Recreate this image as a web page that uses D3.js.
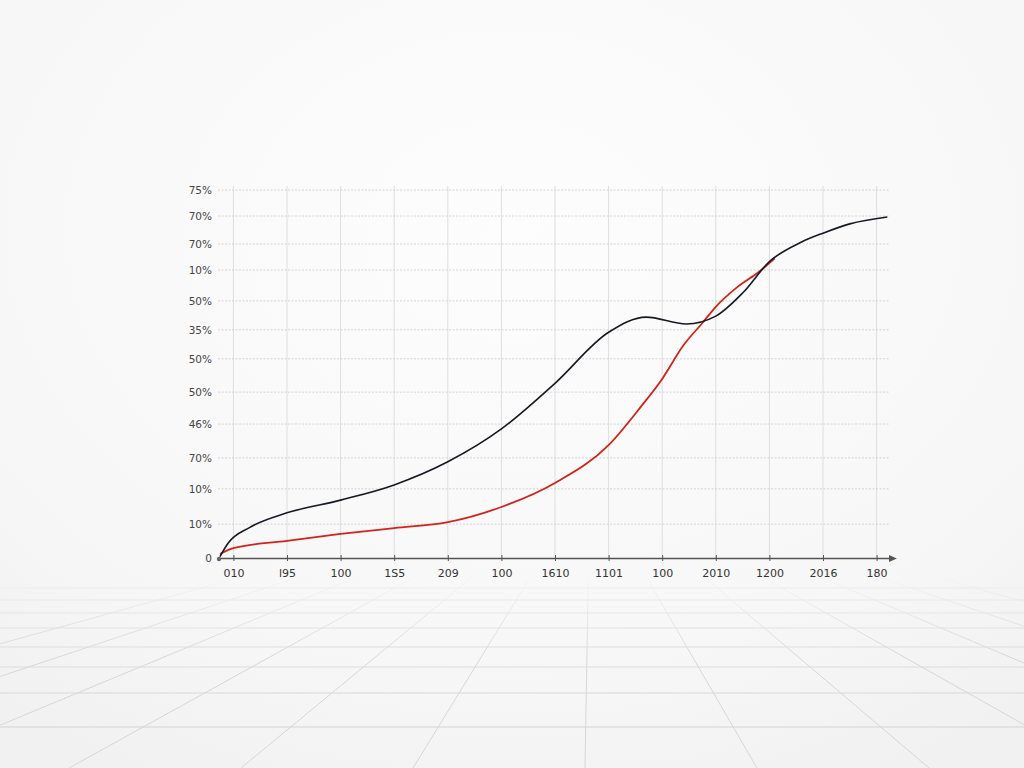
<!DOCTYPE html>
<html>
<head>
<meta charset="utf-8">
<script src="https://cdn.jsdelivr.net/npm/d3@7"></script>
<style>
  html, body { margin: 0; padding: 0; background: #f6f6f6; }
  svg { display: block; }
  text { font-family: 'DejaVu Sans', sans-serif; }
</style>
</head>
<body>
<svg id="chart" width="1024" height="768"></svg>
<script>
// x categories (tick labels as printed on the chart)
const xLabels = ['010', 'l95', '100', '1S5', '209', '100', '1610', '1101', '100', '2010', '1200', '2016', '180']

// y ticks, bottom to top
const yTickValues = [0, 6.9, 14.1, 20.4, 27.3, 33.8, 40.6, 46.5, 52.4, 58.7, 64.0, 69.7, 75]
const yLabels = ['0', '10%', '10%', '70%', '46%', '50%', '50%', '35%', '50%', '10%', '70%', '70%', '75%']

// black series
const blackX = [-0.25, -0.1, 0.3, 1, 2, 3, 4, 5, 6, 7, 7.7, 8.45, 9, 9.5, 10, 10.6, 11, 11.5, 12.2]
const blackY = [0.3, 3.0, 6.2, 9.2, 11.8, 14.9, 19.6, 26.3, 35.6, 46, 49.1, 47.7, 49.3, 54, 60.4, 64.4, 66.2, 68.1, 69.5]

// red series
const redX = [-0.25, 0, 1, 2, 3, 4, 5, 6, 7, 7.6, 8, 8.4, 8.75, 9, 9.4, 9.8, 10.1]
const redY = [0.8, 2.0, 3.5, 4.9, 6.1, 7.3, 10.4, 15.3, 23.0, 30.8, 36.5, 43.4, 47.9, 51.2, 55.2, 58.3, 61.1]

const width = 1024
const height = 768

const svg = d3.select('#chart')
const defs = svg.append('defs')

// background
const bg = defs.append('radialGradient')
  .attr('id', 'bg')
  .attr('cx', '50%').attr('cy', '30%').attr('r', '80%')
bg.append('stop').attr('offset', '0%').attr('stop-color', '#fdfdfd')
bg.append('stop').attr('offset', '70%').attr('stop-color', '#f7f7f7')
bg.append('stop').attr('offset', '100%').attr('stop-color', '#f1f1f1')

svg.append('rect')
  .attr('width', width)
  .attr('height', height)
  .attr('fill', 'url(#bg)')

// perspective floor
const fade = defs.append('linearGradient')
  .attr('id', 'fade')
  .attr('gradientUnits', 'userSpaceOnUse')
  .attr('x1', 0).attr('y1', 572).attr('x2', 0).attr('y2', 660)
fade.append('stop').attr('offset', '0%').attr('stop-color', '#d6d6d6').attr('stop-opacity', 0)
fade.append('stop').attr('offset', '100%').attr('stop-color', '#d6d6d6').attr('stop-opacity', 1)

const floor = svg.append('g')
const vp = [590, 480]
floor.selectAll('line.ray')
  .data(d3.range(-6, 7))
  .enter().append('line')
  .attr('class', 'ray')
  .attr('x1', (k) => 585 + k * 172)
  .attr('y1', height)
  .attr('x2', (k) => {
    const bx = 585 + k * 172
    return bx + (vp[0] - bx) * (height - 572) / (height - vp[1])
  })
  .attr('y2', 572)
  .attr('stroke', 'url(#fade)')
  .attr('stroke-width', 1)

const floorRows = [588, 600, 613, 628, 647, 667, 693, 727]
floor.selectAll('line.row')
  .data(floorRows)
  .enter().append('line')
  .attr('class', 'row')
  .attr('x1', 0)
  .attr('x2', width)
  .attr('y1', (d) => d)
  .attr('y2', (d) => d)
  .attr('stroke', (d, i) => d3.interpolateRgb('#ececec', '#d4d4d4')(i / (floorRows.length - 1)))
  .attr('stroke-width', 1.2)

// scales
const x = d3.scaleLinear()
  .domain([-0.25, 12.25])
  .range([220, 890])

const y = d3.scaleLinear()
  .domain([0, 75])
  .range([558, 190])

const chart = svg.append('g')

// vertical grid
chart.selectAll('line.vgrid')
  .data(d3.range(xLabels.length))
  .enter().append('line')
  .attr('class', 'vgrid')
  .attr('x1', (d) => x(d))
  .attr('x2', (d) => x(d))
  .attr('y1', y(75) - 4)
  .attr('y2', y(0))
  .attr('stroke', '#dedede')
  .attr('stroke-width', 1)

// horizontal grid
chart.selectAll('line.hgrid')
  .data(yTickValues.slice(1))
  .enter().append('line')
  .attr('class', 'hgrid')
  .attr('x1', 218)
  .attr('x2', 890)
  .attr('y1', (d) => y(d))
  .attr('y2', (d) => y(d))
  .attr('stroke', '#c9c9c9')
  .attr('stroke-width', 0.8)
  .attr('stroke-dasharray', '2,1.5')

// y labels
const yAxis = chart.append('g')
  .attr('transform', 'translate(218,0)')
  .call(d3.axisLeft(y)
    .tickValues(yTickValues)
    .tickFormat((d, i) => yLabels[i])
    .tickSize(0)
    .tickPadding(6))
yAxis.select('.domain').remove()
yAxis.selectAll('text')
  .attr('font-size', 10.5)
  .attr('font-family', "'DejaVu Sans', sans-serif")
  .attr('fill', '#444')

// x axis
defs.append('marker')
  .attr('id', 'arrow')
  .attr('viewBox', '0 0 10 10')
  .attr('refX', 2).attr('refY', 5)
  .attr('markerWidth', 7).attr('markerHeight', 7)
  .attr('orient', 'auto')
  .append('path')
  .attr('d', 'M0,1 L9,5 L0,9 Z')
  .attr('fill', '#555')

const xAxis = chart.append('g')
  .attr('transform', `translate(0,${y(0)})`)
  .call(d3.axisBottom(x)
    .tickValues(d3.range(xLabels.length))
    .tickFormat((i) => xLabels[i])
    .tickSize(3)
    .tickSizeOuter(0)
    .tickPadding(8))
xAxis.select('.domain')
  .attr('stroke', '#555')
  .attr('stroke-width', 1.3)
  .attr('marker-end', 'url(#arrow)')
xAxis.selectAll('.tick line')
  .attr('stroke', '#555')
  .attr('y1', -3)
xAxis.selectAll('text')
  .attr('font-size', 11)
  .attr('font-family', "'DejaVu Sans Condensed', 'DejaVu Sans', sans-serif")
  .attr('fill', '#333')

// origin dot
chart.append('circle')
  .attr('cx', x(-0.25) - 1)
  .attr('cy', y(0) + 1)
  .attr('r', 2.2)
  .attr('fill', '#666')

// lines
const line = d3.line()
  .x((d) => x(d[0]))
  .y((d) => y(d[1]))
  .curve(d3.curveMonotoneX)

const blackData = blackX.map((v, i) => [v, blackY[i]])
const redData = redX.map((v, i) => [v, redY[i]])

chart.append('path')
  .datum(redData)
  .attr('d', line)
  .attr('fill', 'none')
  .attr('stroke', '#d2231a')
  .attr('stroke-width', 1.8)

chart.append('path')
  .datum(blackData)
  .attr('d', line)
  .attr('fill', 'none')
  .attr('stroke', '#151a22')
  .attr('stroke-width', 1.6)
</script>
</body>
</html>
